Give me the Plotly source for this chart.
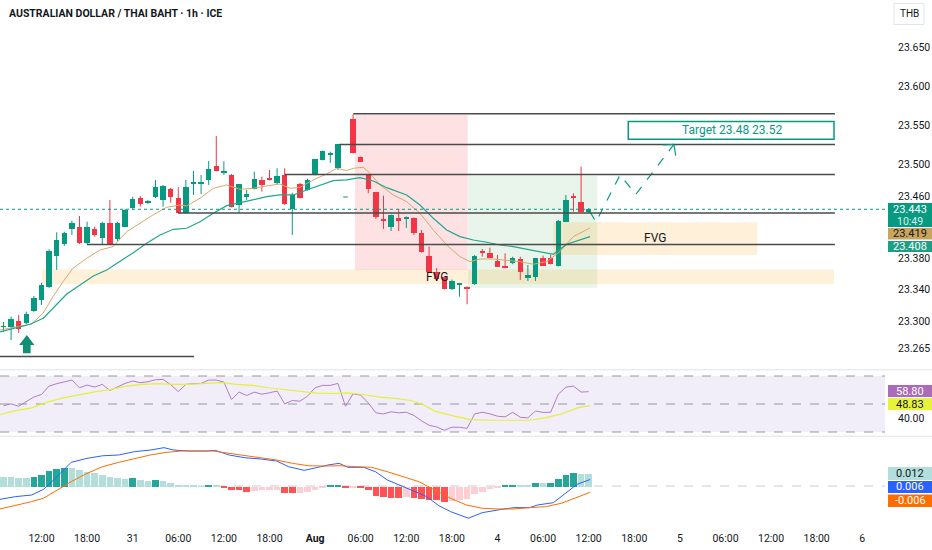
import plotly.graph_objects as go

# hourly bars, bar 0 = 30 Jul 12:00 (weekend removed, bar 40 has no candle)
candle_bars = list(range(-5, 40)) + list(range(41, 73))

opens = [23.2925, 23.2925, 23.3002, 23.2976, 23.3133, 23.3270, 23.3432, 23.3833, 23.3986, 23.4174,
         23.4207, 23.3995, 23.4182, 23.4059, 23.4251, 23.4046, 23.4207, 23.4443, 23.4578, 23.4507,
         23.4583, 23.4549, 23.4686, 23.4578, 23.4379, 23.4762, 23.4753, 23.4805, 23.4987, 23.4898,
         23.4869, 23.4485, 23.4591, 23.4693, 23.4805, 23.4821, 23.4762, 23.4869, 23.4430, 23.4753,
         23.4677, 23.4869, 23.5060, 23.5124, 23.4962,
         23.5581, 23.5103, 23.4869, 23.4647, 23.4306, 23.4207, 23.4315, 23.4306, 23.4323, 23.4131,
         23.3833, 23.3632, 23.3568, 23.3411, 23.3468, 23.3436, 23.3471, 23.3897, 23.3867, 23.3769,
         23.3701, 23.3743, 23.3794, 23.3555, 23.3568, 23.3803, 23.3811, 23.3705, 23.4271, 23.4604,
         23.4519, 23.4399]
highs = [23.2989, 23.3057, 23.3078, 23.3120, 23.3321, 23.3491, 23.3918, 23.4136, 23.4143, 23.4284,
         23.4344, 23.4271, 23.4207, 23.4271, 23.4549, 23.4268, 23.4434, 23.4591, 23.4600, 23.4549,
         23.4805, 23.4741, 23.4702, 23.4711, 23.4805, 23.4920, 23.4869, 23.5048, 23.5367, 23.5044,
         23.4881, 23.4753, 23.4677, 23.4911, 23.4847, 23.4932, 23.4954, 23.4954, 23.4642, 23.4766,
         23.4821, 23.5073, 23.5182, 23.5167, 23.5265,
         23.5645, 23.5105, 23.4875, 23.4651, 23.4604, 23.4363, 23.4434, 23.4338, 23.4325, 23.4165,
         23.3952, 23.3679, 23.3571, 23.3532, 23.3481, 23.3443, 23.3846, 23.3922, 23.3939, 23.3846,
         23.3867, 23.3824, 23.3824, 23.3718, 23.3807, 23.3837, 23.3846, 23.4293, 23.4613, 23.4635,
         23.4975, 23.4443]
lows = [23.2861, 23.2759, 23.2848, 23.2963, 23.3117, 23.3206, 23.3424, 23.3654, 23.3961, 23.4101,
        23.3986, 23.3986, 23.4080, 23.3986, 23.3980, 23.4025, 23.4204, 23.4421, 23.4463, 23.4498,
        23.4574, 23.4463, 23.4514, 23.4383, 23.4370, 23.4613, 23.4626, 23.4741, 23.4913, 23.4869,
        23.4453, 23.4379, 23.4549, 23.4683, 23.4655, 23.4798, 23.4753, 23.4485, 23.4101, 23.4568,
        23.4670, 23.4862, 23.5054, 23.5022, 23.4932,
        23.5143, 23.5035, 23.4635, 23.4306, 23.4178, 23.4152, 23.4152, 23.4191, 23.4101, 23.3877,
        23.3628, 23.3513, 23.3404, 23.3398, 23.3312, 23.3215, 23.3462, 23.3824, 23.3807, 23.3692,
        23.3675, 23.3727, 23.3526, 23.3513, 23.3513, 23.3705, 23.3724, 23.3698, 23.4268, 23.4399,
        23.4389, 23.4383]
closes = [23.2931, 23.3027, 23.2899, 23.3091, 23.3299, 23.3458, 23.3897, 23.4037, 23.4123, 23.4259,
          23.3995, 23.4200, 23.4105, 23.4259, 23.3986, 23.4251, 23.4421, 23.4565, 23.4494, 23.4536,
          23.4711, 23.4732, 23.4583, 23.4386, 23.4711, 23.4783, 23.4779, 23.4941, 23.4920, 23.4903,
          23.4455, 23.4750, 23.4626, 23.4821, 23.4741, 23.4805, 23.4856, 23.4494, 23.4613, 23.4578,
          23.4801, 23.5069, 23.5175, 23.5146, 23.5261,
          23.5146, 23.5039, 23.4690, 23.4335, 23.4289, 23.4357, 23.4280, 23.4331, 23.4131, 23.3880,
          23.3632, 23.3539, 23.3407, 23.3513, 23.3478, 23.3420, 23.3837, 23.3875, 23.3811, 23.3696,
          23.3688, 23.3803, 23.3632, 23.3590, 23.3803, 23.3709, 23.3727, 23.4284, 23.4549, 23.4571,
          23.4392, 23.4430]

# moving averages (bar position, price)
ema_fast_x = [-5.46, -2.83, -1.29, 0.2, 1.51, 2.83, 4.14, 5.95, 7.7, 9.41, 11.21, 12.96, 14.67, 16.47,
              18.22, 19.1, 20.86, 22.6, 24.37, 26.12, 27.87, 29.63, 31.38, 32.7, 34.01, 35.76, 37.53,
              38.84, 40.16, 41.03, 42.34, 43.22, 44.54, 46.29, 48.05, 49.8, 51.55, 53.32, 55.07, 56.38,
              57.7, 59.45, 61.21, 62.96, 64.71, 66.47, 68.22, 69.97, 72.17]
ema_fast = [23.2886, 23.2929, 23.2963, 23.3100, 23.3312, 23.3504, 23.3675, 23.3803, 23.3909, 23.3952,
            23.4143, 23.4251, 23.4357, 23.4455, 23.4485, 23.4472, 23.4571, 23.4698, 23.4741, 23.4686,
            23.4698, 23.4728, 23.4753, 23.4698, 23.4711, 23.4805, 23.4881, 23.4954, 23.4924, 23.4954,
            23.4967, 23.4890, 23.4741, 23.4613, 23.4527, 23.4379, 23.4165, 23.3973, 23.3824, 23.3760,
            23.3794, 23.3794, 23.3773, 23.3760, 23.3727, 23.3760, 23.3888, 23.4080, 23.4191]
ema_slow_x = [-5.46, -1.51, 0.24, 1.55, 3.32, 5.07, 6.82, 8.58, 10.33, 12.08, 13.84, 15.59, 17.34, 19.1,
              20.86, 22.61, 24.37, 26.12, 27.87, 29.63, 31.38, 33.13, 34.89, 36.64, 38.39, 40.16, 41.91,
              43.66, 45.42, 48.05, 49.8, 51.55, 53.32, 55.07, 56.82, 58.58, 60.33, 62.08, 63.84, 65.59,
              67.34, 69.11, 70.86, 72.17]
ema_slow = [23.2861, 23.2959, 23.3036, 23.3164, 23.3347, 23.3462, 23.3577, 23.3654, 23.3760, 23.3875,
            23.3995, 23.4101, 23.4174, 23.4187, 23.4271, 23.4379, 23.4476, 23.4514, 23.4558, 23.4591,
            23.4613, 23.4613, 23.4677, 23.4741, 23.4796, 23.4805, 23.4834, 23.4792, 23.4706, 23.4613,
            23.4485, 23.4315, 23.4165, 23.4080, 23.4037, 23.4008, 23.3973, 23.3952, 23.3918, 23.3888,
            23.3854, 23.3982, 23.4037, 23.4080]

# RSI (one value per bar from -5 to 72) and its moving average
osc_bars = list(range(-5, 73))
rsi = [48.8, 50.1, 48.4, 52.0, 55.0, 56.8, 62.8, 64.5, 65.7, 67.1, 61.6, 63.5, 62.1, 64.0, 59.7, 62.5,
       64.7, 66.4, 65.2, 65.9, 67.3, 67.6, 63.8, 58.9, 64.0, 64.5, 64.7, 67.1, 67.1, 65.7, 53.2, 58.5,
       56.1, 58.5, 57.0, 58.0, 59.3, 50.1, 52.5, 52.0, 55.6, 61.6, 63.3, 63.3, 64.7, 48.4, 57.3, 56.3,
       50.8, 43.7, 42.9, 44.4, 43.7, 44.1, 41.8, 38.0, 34.8, 33.6, 31.2, 33.4, 33.4, 32.6, 43.0, 44.1,
       43.0, 41.3, 40.8, 44.1, 40.5, 40.1, 45.0, 44.0, 44.1, 57.0, 62.0, 62.8, 58.5, 58.8]
rsi_ma_x = [-5.46, -3.38, -1.30, 0.78, 2.86, 4.94, 7.02, 9.10, 11.18, 13.26, 15.34, 17.42, 19.5, 21.58,
            23.66, 25.74, 27.82, 29.9, 31.98, 34.06, 36.14, 38.22, 40.3, 42.38, 44.46, 46.54, 48.62,
            50.18, 51.74, 54.34, 56.42, 59.0, 62.1, 64.2, 66.3, 68.4, 70.5, 72.2]
rsi_ma = [42.5, 45.3, 47.2, 51.3, 54.4, 56.8, 58.7, 60.4, 62.8, 64.0, 64.5, 64.0, 64.0, 64.7, 65.2, 64.0,
          63.3, 61.6, 60.4, 58.7, 57.8, 57.5, 58.0, 56.8, 54.9, 54.0, 52.5, 49.6, 44.9, 41.3, 38.9, 38.4,
          38.1, 38.4, 40.1, 42.9, 47.2, 48.8]

# MACD histogram (per bar), MACD and signal lines
macd_hist = [0.0095, 0.0089, 0.0079, 0.0079, 0.0095, 0.0111, 0.0143, 0.0162, 0.0178, 0.0178, 0.0155,
             0.0136, 0.0127, 0.0111, 0.0089, 0.0079, 0.0076, 0.0079, 0.0063, 0.0054, 0.0060, 0.0048,
             0.0035, 0.0013, 0.0010, 0.0006, 0.0003, 0.0010, 0.0008, -0.0006, -0.0032, -0.0038, -0.0054,
             -0.0044, -0.0038, -0.0032, -0.0032, -0.0060, -0.0063, -0.0063, -0.0054, -0.0029, -0.0016,
             0.0006, 0.0016, -0.0016, -0.0006, -0.0010, -0.0032, -0.0086, -0.0101, -0.0108, -0.0111,
             -0.0098, -0.0108, -0.0117, -0.0124, -0.0133, -0.0149, -0.0140, -0.0124, -0.0117, -0.0076,
             -0.0048, -0.0022, -0.0013, 0.0006, 0.0016, 0.0010, 0.0010, 0.0029, 0.0029, 0.0035, 0.0073,
             0.0105, 0.0130, 0.0120, 0.0117]
macd_x = [-5.46, -3.38, -1.30, 0.26, 1.82, 3.90, 5.98, 8.06, 10.14, 12.22, 14.30, 16.12, 17.42, 19.5,
          21.58, 22.88, 24.70, 26.78, 28.86, 30.94, 32.50, 34.58, 36.14, 37.70, 39.16, 40.30, 42.38,
          43.95, 45.51, 47.07, 48.62, 50.70, 52.27, 53.83, 56.17, 57.99, 60.07, 62.15, 64.23, 65.27,
          67.35, 68.91, 70.47, 72.19]
macd_line = [-0.0127, -0.0101, -0.0086, -0.0032, 0.0073, 0.0225, 0.0263, 0.0288, 0.0295, 0.0327, 0.0342,
             0.0365, 0.0342, 0.0333, 0.0333, 0.0339, 0.0295, 0.0269, 0.0257, 0.0238, 0.0184, 0.0149,
             0.0174, 0.0200, 0.0216, 0.0178, 0.0178, 0.0136, 0.0057, 0.0010, -0.0038, -0.0101, -0.0187,
             -0.0244, -0.0307, -0.0254, -0.0228, -0.0206, -0.0206, -0.0181, -0.0159, -0.0070, 0.0016,
             0.0062]
signal_x = [-5.46, -3.38, -1.30, 0.26, 1.82, 3.90, 5.98, 8.06, 10.14, 12.22, 14.30, 16.38, 18.46, 20.54,
            22.62, 24.70, 26.78, 28.86, 30.94, 33.02, 35.10, 37.18, 39.27, 41.35, 43.43, 45.51, 47.59,
            49.67, 51.74, 53.83, 55.91, 57.99, 60.07, 62.15, 64.23, 66.31, 68.39, 70.47, 72.19]
signal_line = [-0.0219, -0.0187, -0.0149, -0.0117, -0.0048, 0.0041, 0.0120, 0.0184, 0.0225, 0.0263,
               0.0295, 0.0320, 0.0333, 0.0333, 0.0333, 0.0311, 0.0288, 0.0269, 0.0247, 0.0216, 0.0193,
               0.0190, 0.0193, 0.0184, 0.0178, 0.0136, 0.0089, 0.0041, -0.0038, -0.0117, -0.0181,
               -0.0212, -0.0219, -0.0219, -0.0206, -0.0197, -0.0165, -0.0111, -0.0060]

# drawings
level_prices = [23.2547, 23.3980, 23.4383, 23.4875, 23.5259, 23.5652]
level_starts = [-5.46, 5.99, 17.96, 32.04, 39.18, 41.03]
level_ends = [20.07, 104.4, 104.4, 104.4, 104.4, 104.4]
path_x = [72.17, 72.96, 76.12, 78.22, 83.22]
path_y = [23.4399, 23.4268, 23.4869, 23.4622, 23.5261]
last_price = 23.443

time_ticks = [0, 6, 12, 18, 24, 30, 36, 42, 48, 54, 60, 66, 72, 78, 84, 90, 96, 102, 108]
time_labels = ['12:00', '18:00', '31', '06:00', '12:00', '18:00', '<b>Aug</b>', '06:00', '12:00',
               '18:00', '4', '06:00', '12:00', '18:00', '5', '06:00', '12:00', '18:00', '6']
price_ticks = [23.265, 23.300, 23.340, 23.380, 23.460, 23.500, 23.550, 23.600, 23.650]

# colours
up = '#089981'
down = '#f23645'
ink = '#131722'
font_name = 'Roboto'

PLOT_W, PLOT_H = 885, 523


def px(x):
    return x / PLOT_W


def py(y):
    return 1 - y / PLOT_H


fig = go.Figure()

# candles: wicks + bodies
wick_up_x, wick_up_y, wick_dn_x, wick_dn_y = [], [], [], []
body_base, body_len, body_col = [], [], []
for b, o, h, l, c in zip(candle_bars, opens, highs, lows, closes):
    if c >= o:
        wick_up_x += [b, b, None]
        wick_up_y += [l, h, None]
        body_col.append(up)
    else:
        wick_dn_x += [b, b, None]
        wick_dn_y += [l, h, None]
        body_col.append(down)
    body_base.append(min(o, c))
    body_len.append(max(abs(c - o), 0.0011))

fig.add_trace(go.Scatter(x=wick_up_x, y=wick_up_y, mode='lines', line=dict(color=up, width=1),
                         hoverinfo='skip'))
fig.add_trace(go.Scatter(x=wick_dn_x, y=wick_dn_y, mode='lines', line=dict(color=down, width=1),
                         hoverinfo='skip'))
fig.add_trace(go.Bar(x=candle_bars, y=body_len, base=body_base, width=0.72,
                     marker=dict(color=body_col, line=dict(width=0))))

fig.add_trace(go.Scatter(x=ema_fast_x, y=ema_fast, mode='lines', line=dict(color='#d9a86c', width=1)))
fig.add_trace(go.Scatter(x=ema_slow_x, y=ema_slow, mode='lines', line=dict(color='#22a68f', width=1.2)))

# trade idea path
fig.add_trace(go.Scatter(x=path_x, y=path_y, mode='lines',
                         line=dict(color=up, width=1.2, dash='dash')))

# RSI pane
fig.add_trace(go.Scatter(x=osc_bars, y=rsi, mode='lines', line=dict(color='#b07cc6', width=1),
                         yaxis='y2'))
fig.add_trace(go.Scatter(x=rsi_ma_x, y=rsi_ma, mode='lines', line=dict(color='#e6ef3c', width=1.2),
                         yaxis='y2'))

# MACD pane
hist_col = []
prev = None
for h in macd_hist:
    if h >= 0:
        hist_col.append('#26a69a' if prev is not None and h > prev else '#b2dfdb')
    else:
        hist_col.append('#ff5252' if prev is not None and h < prev else '#ffcdd2')
    prev = h
fig.add_trace(go.Bar(x=osc_bars, y=macd_hist, width=0.85, marker=dict(color=hist_col, line=dict(width=0)),
                     yaxis='y3'))
fig.add_trace(go.Scatter(x=macd_x, y=macd_line, mode='lines', line=dict(color='#2962ff', width=1),
                         yaxis='y3'))
fig.add_trace(go.Scatter(x=signal_x, y=signal_line, mode='lines', line=dict(color='#ff6d00', width=1),
                         yaxis='y3'))

shapes = []
# zones
shapes.append(dict(type='rect', xref='x', yref='y', x0=41.25, x1=56.08, y0=23.3654, y1=23.5636,
                   fillcolor='rgba(242,54,69,0.15)', line_width=0, layer='below'))
shapes.append(dict(type='rect', xref='x', yref='y', x0=56.12, x1=73.13, y0=23.3427, y1=23.4860,
                   fillcolor='rgba(76,175,80,0.12)', line_width=0, layer='below'))
shapes.append(dict(type='rect', xref='x', yref='y', x0=0.03, x1=104.28, y0=23.3475, y1=23.3660,
                   fillcolor='rgba(255,152,0,0.15)', line_width=0, layer='below'))
shapes.append(dict(type='rect', xref='x', yref='y', x0=67.34, x1=94.18, y0=23.3846, y1=23.4264,
                   fillcolor='rgba(255,152,0,0.15)', line_width=0, layer='below'))
# horizontal levels
for p, a, b in zip(level_prices, level_starts, level_ends):
    shapes.append(dict(type='line', xref='x', yref='y', x0=a, x1=b, y0=p, y1=p,
                       line=dict(color='#4a4a4a', width=1.5)))
# target box
shapes.append(dict(type='rect', xref='x', yref='y', x0=77.21, x1=104.28, y0=23.5325, y1=23.5553,
                   fillcolor='white', line=dict(color=up, width=1.5)))
# arrow head of the path
shapes.append(dict(type='line', xref='x', yref='y', x0=81.8, y0=23.5252, x1=83.22, y1=23.5261,
                   line=dict(color=up, width=1.2)))
shapes.append(dict(type='line', xref='x', yref='y', x0=83.45, y0=23.5115, x1=83.22, y1=23.5261,
                   line=dict(color=up, width=1.2)))
# small marker near bar 40
shapes.append(dict(type='line', xref='x', yref='y', x0=39.7, x1=40.3, y0=23.4587, y1=23.4587,
                   line=dict(color='#5fb3a0', width=1.5)))
# buy arrow under bar -2
ab, at = -1.93, 23.2822
shapes.append(dict(type='path', xref='x', yref='y',
                   path=f'M {ab - 1.0},{at - 0.0127} L {ab},{at} L {ab + 1.0},{at - 0.0127} '
                        f'L {ab + 0.5},{at - 0.0127} L {ab + 0.5},{at - 0.0234} '
                        f'L {ab - 0.5},{at - 0.0234} L {ab - 0.5},{at - 0.0127} Z',
                   fillcolor='#0f8f74', line_width=0))
# last price line
shapes.append(dict(type='line', xref='paper', yref='y', x0=0, x1=1, y0=last_price, y1=last_price,
                   line=dict(color=up, width=1, dash='dot')))
# RSI band and levels
shapes.append(dict(type='rect', xref='paper', yref='y2', x0=0, x1=1, y0=30, y1=70,
                   fillcolor='rgba(126,87,194,0.1)', line_width=0, layer='below'))
for lv in [70, 50, 30]:
    shapes.append(dict(type='line', xref='paper', yref='y2', x0=0, x1=1, y0=lv, y1=lv,
                       line=dict(color='#9598a1', width=1, dash='dash'), layer='below'))
shapes.append(dict(type='line', xref='paper', yref='y3', x0=0, x1=1, y0=0, y1=0,
                   line=dict(color='#c9cbd1', width=1, dash='dash'), layer='below'))
# pane separators
for yy in [369.8, 436.2]:
    shapes.append(dict(type='line', xref='paper', yref='paper', x0=0, x1=px(932), y0=py(yy), y1=py(yy),
                       line=dict(color='#e0e3eb', width=1)))

annotations = []
# price scale labels
scale_labels = [
    ('23.443', 203, 216, up, 'white'),
    ('23.419', 228, 239.5, '#c9a45c', ink),
    ('23.408', 241, 252, '#1e9e85', 'white'),
    ('58.80', 385, 397, '#ab6bb8', 'white'),
    ('48.83', 398, 410, '#e8f23a', ink),
    ('0.012', 467, 480, '#b2dfdb', ink),
    ('0.006', 481, 493, '#2962ff', 'white'),
    ('-0.006', 494.5, 507, '#ff6d00', 'white'),
]
for txt, y0, y1, bg, fg in scale_labels:
    y1b = 227 if txt == '23.443' else y1
    shapes.append(dict(type='rect', xref='paper', yref='paper', x0=px(888), x1=px(932),
                       y0=py(y1b), y1=py(y0), fillcolor=bg, line_width=0))
    annotations.append(dict(text=txt, xref='paper', yref='paper', x=px(910), y=py((y0 + y1) / 2),
                            showarrow=False, font=dict(family=font_name, size=11, color=fg),
                            xanchor='center', yanchor='middle'))
annotations.append(dict(text='10:49', xref='paper', yref='paper', x=px(910), y=py(221),
                        showarrow=False, font=dict(family=font_name, size=10.5, color='#d8f0ea'),
                        xanchor='center', yanchor='middle'))
# currency button
shapes.append(dict(type='rect', xref='paper', yref='paper', x0=px(894), x1=px(924), y0=py(24.5), y1=py(3.5),
                   fillcolor='white', line=dict(color='#e0e3eb', width=1)))
annotations.append(dict(text='THB', xref='paper', yref='paper', x=px(909), y=py(14), showarrow=False,
                        font=dict(family=font_name, size=10, color=ink), xanchor='center', yanchor='middle'))
# title
annotations.append(dict(text='<b>AUSTRALIAN DOLLAR / THAI BAHT · 1h · ICE</b>', xref='paper', yref='paper',
                        x=px(6.5), y=py(14), showarrow=False, xanchor='left', yanchor='middle',
                        font=dict(family=font_name, size=10.5, color=ink)))
# chart texts
annotations.append(dict(text='Target 23.48 23.52', xref='x', yref='y', x=90.8, y=23.5439, showarrow=False,
                        font=dict(family=font_name, size=12, color=up)))
annotations.append(dict(text='FVG', xref='x', yref='y', x=80.7, y=23.4059, showarrow=False,
                        font=dict(family=font_name, size=12, color=ink)))
annotations.append(dict(text='FVG', xref='x', yref='y', x=52.1, y=23.3568, showarrow=False,
                        font=dict(family=font_name, size=12, color=ink)))

axis_font = dict(family=font_name, size=10.5, color=ink)
fig.update_layout(
    width=932, height=550,
    margin=dict(l=0, r=47, t=0, b=27),
    paper_bgcolor='white', plot_bgcolor='white',
    showlegend=False, barmode='overlay', bargap=0,
    xaxis=dict(domain=[0, 1], anchor='y3', range=[-5.46, 110.99], tickvals=time_ticks,
               ticktext=time_labels, showgrid=False, zeroline=False, showline=False,
               ticks='outside', ticklen=2, tickcolor='rgba(0,0,0,0)', ticklabelstandoff=3,
               tickfont=axis_font),
    yaxis=dict(domain=[py(369.5), 1], anchor='x', side='right', range=[23.2381, 23.7106],
               tickvals=price_ticks, ticktext=[f'{v:.3f}' for v in price_ticks],
               showgrid=False, zeroline=False, ticks='', ticklabelstandoff=12, tickfont=axis_font),
    yaxis2=dict(domain=[py(436), py(370.5)], anchor='x', side='right', range=[27.14, 73.93],
                tickvals=[40], ticktext=['40.00'], showgrid=False, zeroline=False, ticks='',
                ticklabelstandoff=12, tickfont=axis_font),
    yaxis3=dict(domain=[0, py(436.5)], anchor='x', side='right', range=[-0.03524, 0.04714],
                showticklabels=False, showgrid=False, zeroline=False, ticks=''),
    shapes=shapes,
    annotations=annotations,
)

fig.write_html('out.html', config={'displayModeBar': False},
               post_script="document.body.style.margin='0';")
